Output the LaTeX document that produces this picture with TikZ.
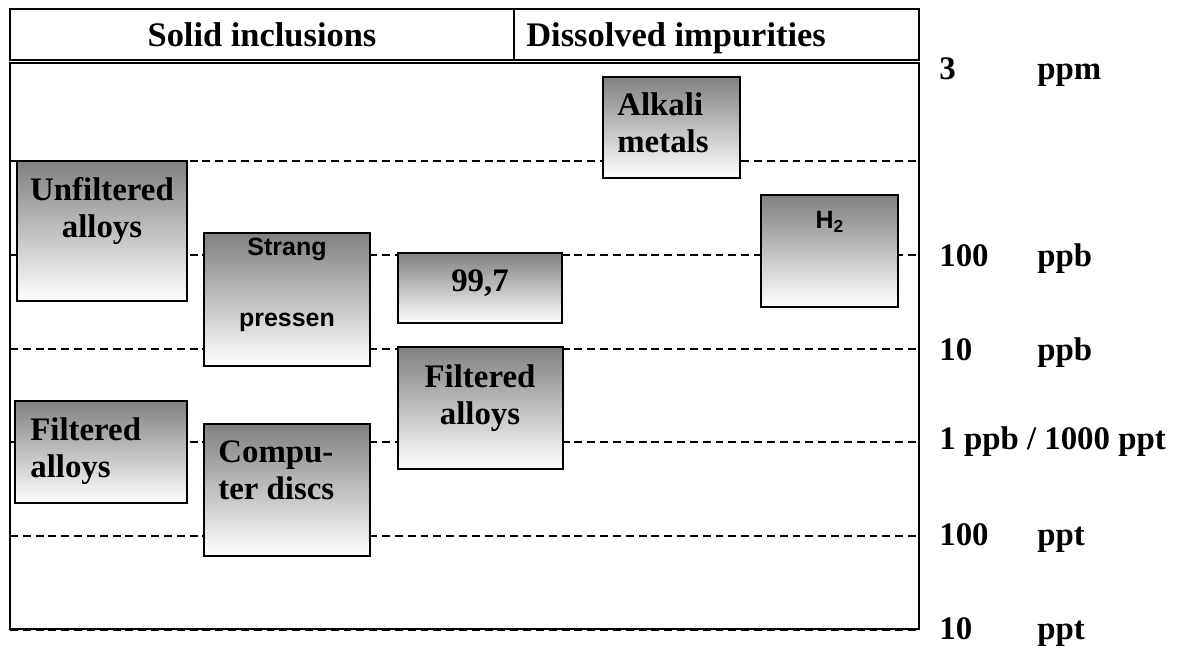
\documentclass[tikz,border=0pt]{standalone}
\usepackage{fontspec}
\setmainfont{Liberation Serif}
\setsansfont{Liberation Sans}
\usepackage{tikz}
\usetikzlibrary{positioning}
\definecolor{cellgray}{RGB}{128,128,128}

\begin{document}
\begin{tikzpicture}[
  font=\bfseries\fontsize{18.7}{21}\selectfont,
  frame/.style={draw,line width=1.1pt},
  gridline/.style={draw,line width=0.8pt,dash pattern=on 4.5pt off 2.8pt},
  cellbox/.style={draw,line width=1pt,top color=cellgray,bottom color=white,
    inner sep=0pt},
  celltext/.style={inner sep=0pt,align=center},
  sanstext/.style={inner sep=0pt,align=center,
    font=\sffamily\bfseries\fontsize{14.2}{40.3}\selectfont},
  head/.style={inner sep=0pt,font=\bfseries\fontsize{19.6}{22}\selectfont},
  unitlabel/.style={inner sep=0pt,anchor=base west}
]
  \useasboundingbox (0,0) rectangle (23.78,12.96);

  % header and frame
  \draw[frame] (0.20,11.76) rectangle (18.38,12.78);
  \draw[frame] (10.28,11.76) -- (10.28,12.78);
  \draw[frame] (0.20,0.38) rectangle (18.38,11.70);
  \node[head,anchor=base] (solid) at (5.24,12.02) {Solid inclusions};
  \node[head,anchor=base west] (dissolved) at (10.52,12.02) {Dissolved impurities};

  % concentration levels
  \draw[gridline] (0.20,9.74) -- (18.38,9.74);
  \draw[gridline] (0.20,7.86) -- (18.38,7.86);
  \draw[gridline] (0.20,5.98) -- (18.38,5.98);
  \draw[gridline] (0.20,4.12) -- (18.38,4.12);
  \draw[gridline] (0.20,2.24) -- (18.38,2.24);
  \draw[gridline] (0.20,0.36) -- (18.38,0.36);

  % solid inclusions
  \node[cellbox,minimum width=3.40cm,minimum height=2.80cm] (unf) at (2.04,8.34) {};
  \node[celltext,anchor=north] (unftxt) at (2.04,9.42) {Unfiltered\\alloys};
  \node[cellbox,minimum width=3.32cm,minimum height=2.66cm] (strang) at (5.74,6.97) {};
  \node[sanstext,anchor=north] (strangtxt) at (5.74,8.20) {Strang\\pressen};
  \node[cellbox,minimum width=3.28cm,minimum height=1.40cm] (pure) at (9.60,7.20) {};
  \node[celltext,anchor=base] (puretxt) at (9.60,7.12) {99,7};
  \node[cellbox,minimum width=3.30cm,minimum height=2.44cm] (filmid) at (9.61,4.80) {};
  \node[celltext,anchor=north] (filmidtxt) at (9.60,5.68) {Filtered\\alloys};
  \node[cellbox,minimum width=3.44cm,minimum height=2.04cm] (filleft) at (2.02,3.92) {};
  \node[celltext,align=left,anchor=north west] (fillefttxt) at (0.60,4.62)
    {Filtered\\alloys};
  \node[cellbox,minimum width=3.32cm,minimum height=2.64cm] (comp) at (5.74,3.16) {};
  \node[celltext,align=left,anchor=north west] (comptxt) at (4.36,4.16)
    {Compu-\\ter discs};

  % dissolved impurities
  \node[cellbox,minimum width=2.74cm,minimum height=2.02cm] (alk) at (13.43,10.41) {};
  \node[celltext,align=left,anchor=north west] (alktxt) at (12.34,11.12)
    {Alkali\\metals};
  \node[cellbox,minimum width=2.74cm,minimum height=2.24cm] (hyd) at (16.59,7.94) {};
  \node[sanstext,anchor=base] (hydtxt) at (16.60,8.38) {H\textsubscript{2}};

  % scale
  \node[unitlabel] (n3) at (18.78,11.36) {3};
  \node[unitlabel] (u3) at (20.74,11.36) {ppm};
  \node[unitlabel] (n100b) at (18.78,7.62) {100};
  \node[unitlabel] (u100b) at (20.74,7.62) {ppb};
  \node[unitlabel] (n10b) at (18.78,5.74) {10};
  \node[unitlabel] (u10b) at (20.74,5.74) {ppb};
  \node[unitlabel] (n1b) at (18.78,3.96) {1 ppb / 1000 ppt};
  \node[unitlabel] (n100t) at (18.78,2.04) {100};
  \node[unitlabel] (u100t) at (20.74,2.04) {ppt};
  \node[unitlabel] (n10t) at (18.78,0.16) {10};
  \node[unitlabel] (u10t) at (20.74,0.16) {ppt};
\end{tikzpicture}
\end{document}
